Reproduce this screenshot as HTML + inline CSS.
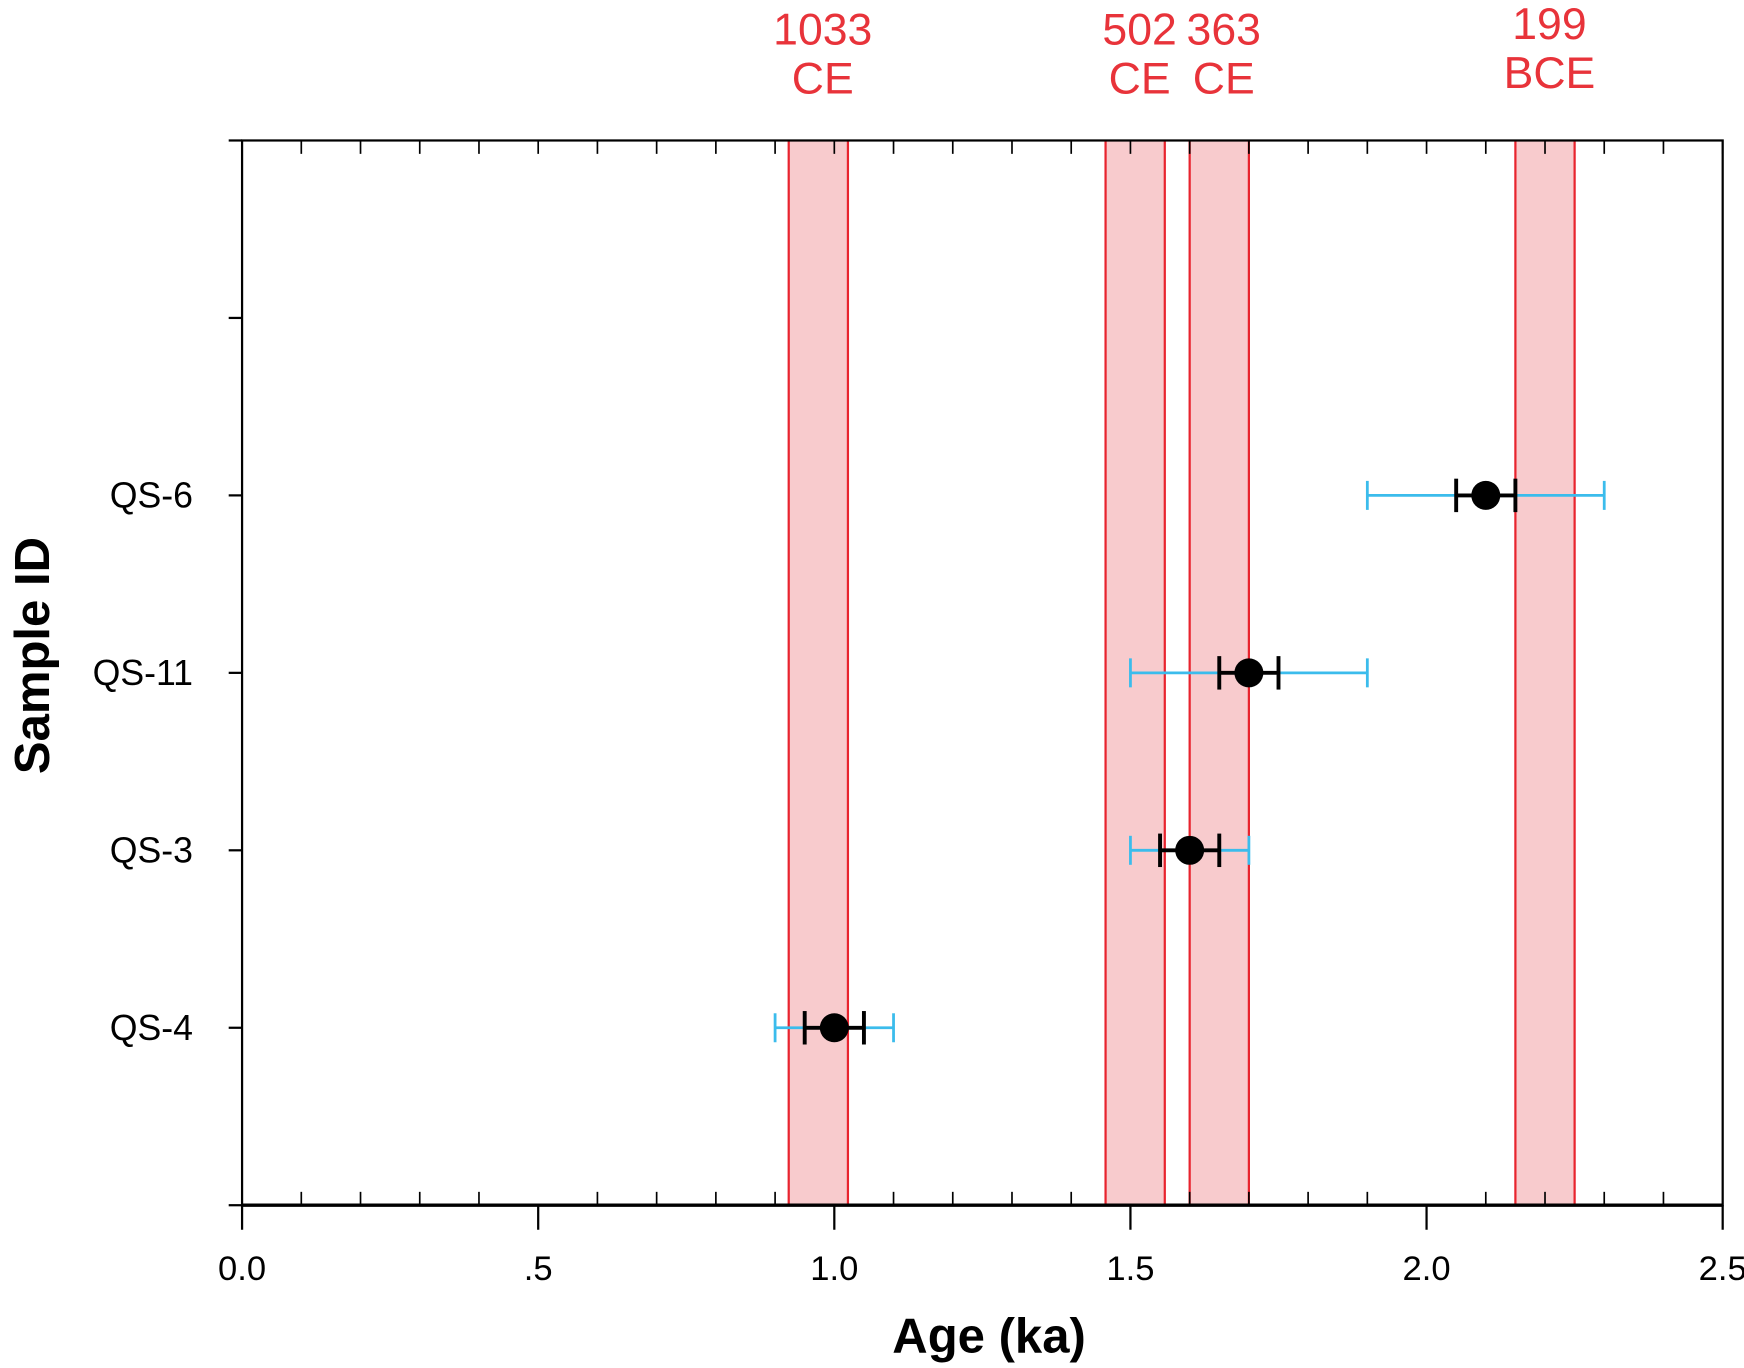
<!DOCTYPE html>
<html><head><meta charset="utf-8"><style>html,body{margin:0;padding:0;background:#fff}svg{display:block}</style></head>
<body>
<svg id="chart" width="1744" height="1368" viewBox="0 0 1564 1227" xmlns="http://www.w3.org/2000/svg" font-family="'Liberation Sans', sans-serif"></svg>
<script>
const samples = ["QS-4","QS-3","QS-11","QS-6"];
const ages = [1.0,1.6,1.7,2.1];
const innerErr = [0.05,0.05,0.05,0.05];
const outerLo = [0.9,1.5,1.5,1.9];
const outerHi = [1.1,1.7,1.9,2.3];
const bandLo = [0.923,1.458,1.6,2.15];
const bandHi = [1.023,1.558,1.7,2.25];
const bandYear = ["1033","502","363","199"];
const bandEra = ["CE","CE","CE","BCE"];
const xTicks = [0,0.5,1.0,1.5,2.0,2.5];
const xTickLabels = ["0.0",".5","1.0","1.5","2.0","2.5"];

const NS="http://www.w3.org/2000/svg";
const svg=document.getElementById('chart');
const L=217,R=1545,T=126,B=1081;
const x=v=>L+(v/2.5)*(R-L);
const slot=(B-T)/6;
const y=i=>B-slot*(i+1);
function mk(tag,attrs,parent){const e=document.createElementNS(NS,tag);for(const k in attrs)e.setAttribute(k,attrs[k]);(parent||svg).appendChild(e);return e;}

bandLo.forEach((lo,i)=>{
  const g=mk('g',{});
  
  
  mk('rect',{x:x(lo),y:T,width:x(bandHi[i])-x(lo),height:B-T,fill:'#f8cbcd'},g);
  mk('line',{x1:x(lo),x2:x(lo),y1:T,y2:B,stroke:'#e8242e','stroke-width':2},g);
  mk('line',{x1:x(bandHi[i]),x2:x(bandHi[i]),y1:T,y2:B,stroke:'#e8242e','stroke-width':2},g);
  const cx=(x(lo)+x(bandHi[i]))/2+4;
  const off=bandEra[i]==="BCE"?-5:0;
  const t1=mk('text',{x:cx,y:40+off,'text-anchor':'middle','font-size':40,fill:'#e8333a'},g);t1.textContent=bandYear[i];
  
  
  const t2=mk('text',{x:cx,y:84+off,'text-anchor':'middle','font-size':40,fill:'#e8333a'},g);t2.textContent=bandEra[i];
  
  
});

const frame=mk('rect',{x:L,y:T,width:R-L,height:B-T,fill:'none',stroke:'#000','stroke-width':2});


mk('line',{x1:L,x2:R,y1:B,y2:B,stroke:'#000','stroke-width':3});

for(let k=0;k<=25;k++){
  const v=k/10,px=x(v);
  if(k%5===0){mk('line',{x1:px,x2:px,y1:B,y2:B+22,stroke:'#000','stroke-width':2});}
  else{mk('line',{x1:px,x2:px,y1:B,y2:B-12,stroke:'#000','stroke-width':1.5});}
  mk('line',{x1:px,x2:px,y1:T,y2:T+12,stroke:'#000','stroke-width':1.5});
}
xTicks.forEach((v,i)=>{
  const t=mk('text',{x:x(v),y:1148,'text-anchor':'middle','font-size':31,fill:'#000'});t.textContent=xTickLabels[i];
  
  
});
for(let k=0;k<=6;k++){const py=B-slot*k;mk('line',{x1:L-12,x2:L,y1:py,y2:py,stroke:'#000','stroke-width':2});}

samples.forEach((s,i)=>{
  const py=y(i);
  const lab=mk('text',{x:173,y:py+11,'text-anchor':'end','font-size':32,fill:'#000'});lab.textContent=s;
  
  
  const g=mk('g',{});
  
  
  const c='#3bbcec';
  mk('line',{x1:x(outerLo[i]),x2:x(outerHi[i]),y1:py,y2:py,stroke:c,'stroke-width':2.5},g);
  mk('line',{x1:x(outerLo[i]),x2:x(outerLo[i]),y1:py-13,y2:py+13,stroke:c,'stroke-width':2.5},g);
  mk('line',{x1:x(outerHi[i]),x2:x(outerHi[i]),y1:py-13,y2:py+13,stroke:c,'stroke-width':2.5},g);
  const a=x(ages[i]-innerErr[i]),b=x(ages[i]+innerErr[i]);
  mk('line',{x1:a,x2:b,y1:py,y2:py,stroke:'#000','stroke-width':3.5},g);
  mk('line',{x1:a,x2:a,y1:py-15,y2:py+15,stroke:'#000','stroke-width':3.5},g);
  mk('line',{x1:b,x2:b,y1:py-15,y2:py+15,stroke:'#000','stroke-width':3.5},g);
  mk('circle',{cx:x(ages[i]),cy:py,r:13,fill:'#000'},g);
});

const xt=mk('text',{x:887,y:1213,'text-anchor':'middle','font-size':44,'font-weight':'bold',fill:'#000'});xt.textContent='Age (ka)';


const yt=mk('text',{x:0,y:0,'text-anchor':'middle','font-size':44,'font-weight':'bold',fill:'#000',transform:'translate(44,588) rotate(-90)'});yt.textContent='Sample ID';


</script>
</body></html>
